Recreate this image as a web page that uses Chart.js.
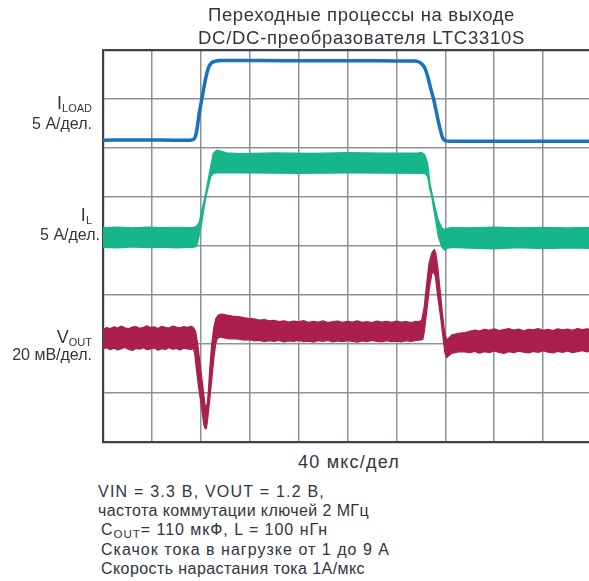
<!DOCTYPE html>
<html lang="ru">
<head>
<meta charset="utf-8">
<title>LTC3310S — переходные процессы</title>
<script src="https://cdn.jsdelivr.net/npm/chart.js@4/dist/chart.umd.min.js"></script>
<style>
  html, body { margin: 0; padding: 0; background: #ffffff; overflow: hidden; }
  body { width: 589px; height: 581px; position: relative;
         font-family: "Liberation Sans", Arial, sans-serif; color: #30353f; }
  #plot { position: absolute; left: 0; top: 0; width: 600px; height: 450px; }
  .t { position: absolute; white-space: nowrap; line-height: 1; }
  .r { text-align: right; }
  .sub { font-size: 11px; vertical-align: -3px; }
  .nsub { font-size: 11.5px; vertical-align: -3px; }
</style>
</head>
<body>
<div id="plot"><canvas id="c"></canvas></div>

<span class="t" data-w="307" style="left:208px; top:5.5px; font-size:18.5px;">Переходные процессы на выходе</span>
<span class="t" data-w="327" style="left:198px; top:28.5px; font-size:18.5px;">DC/DC-преобразователя LTC3310S</span>

<div class="t r" style="right:497px; top:94px; font-size:18px;">I<span class="sub">LOAD</span></div>
<div class="t r" style="right:497px; top:115.5px; font-size:16px;">5 А/дел.</div>

<div class="t r" style="right:497px; top:206px; font-size:18px;">I<span class="sub">L</span></div>
<div class="t r" style="right:489px; top:227px; font-size:16px;">5 А/дел.</div>

<div class="t r" style="right:497px; top:328px; font-size:18px;">V<span class="sub">OUT</span></div>
<div class="t r" style="right:497px; top:347px; font-size:16px;">20 мВ/дел.</div>

<span class="t" data-w="102" style="left:298px; top:453px; font-size:18px;">40 мкс/дел</span>

<span class="t" data-w="227" style="left:98px; top:483.5px; font-size:16px;">VIN = 3.3 В, VOUT = 1.2 В,</span>
<span class="t" data-w="271" style="left:98px; top:502.5px; font-size:16px;">частота коммутации ключей 2 МГц</span>
<span class="t" data-w="227" style="left:101px; top:522px; font-size:16px;">C<span class="nsub">OUT</span>= 110 мкФ, L = 100 нГн</span>
<span class="t" data-w="289" style="left:101px; top:542px; font-size:16px;">Скачок тока в нагрузке от 1 до 9 А</span>
<span class="t" data-w="264" style="left:101px; top:561px; font-size:16px;">Скорость нарастания тока 1А/мкс</span>

<script>
// Spread each caption line over its set width.
document.querySelectorAll('[data-w]').forEach(el => {
  const natural = el.getBoundingClientRect().width;
  const n = Array.from(el.textContent).length;
  el.style.letterSpacing = ((Number(el.dataset.w) - natural) / n) + 'px';
});

// Time base: 40 µs per division, 10 divisions.
const TIME_MAX_US = 400;
const TIME_STEP_US = 40;
const DIVISIONS_Y = 8;

// Load current I_LOAD, A
const ILOAD_T = [0, 30, 60, 71, 73.5, 75.5, 77, 78.5, 81, 83.5, 86, 88.5, 92, 96, 130, 170, 210, 240, 255, 258, 261, 263.5, 266, 268, 270.2, 272, 274, 276, 278, 280, 284, 320, 360, 400];
const ILOAD_A = [1.0, 1.02, 1.0, 1.0, 1.05, 1.35, 2.2, 3.6, 5.3, 7.0, 8.3, 8.85, 9.05, 9.12, 9.12, 9.1, 9.1, 9.09, 9.08, 9.0, 8.75, 8.3, 7.3, 6.3, 5.3, 4.3, 3.1, 2.0, 1.2, 0.95, 0.88, 0.9, 0.88, 0.9];

// Inductor current I_L, A — upper and lower ripple envelope
const IL_UP_T = [0, 12, 24, 36, 48, 60, 70, 73.9, 76.6, 78.8, 80.2, 83.4, 87.0, 90.2, 93.0, 95.7, 101.2, 112, 140, 170, 200, 230, 258, 260.7, 263.4, 265.6, 267.5, 269.4, 271.6, 274.3, 277.1, 278.4, 281.3, 285.2, 300, 320, 340, 360, 380, 400];
const IL_UP_A = [1.98, 2.02, 1.96, 2.03, 1.99, 2.01, 1.97, 1.99, 2.12, 2.56, 3.42, 5.11, 7.5, 9.54, 9.88, 9.81, 9.6, 9.54, 9.6, 9.55, 9.62, 9.57, 9.6, 9.64, 9.37, 8.52, 6.48, 5.29, 4.09, 2.73, 1.99, 1.79, 1.89, 1.99, 1.95, 2.02, 1.96, 2.0, 1.94, 2.01];
const IL_LO_T = [0, 12, 24, 36, 48, 60, 70, 73.9, 76.6, 77.9, 80.7, 84.2, 88.1, 90.2, 93.0, 120, 160, 200, 240, 263.4, 265.6, 267.5, 268.9, 271.6, 274.3, 277.1, 279.2, 281.2, 285.2, 300, 320, 340, 360, 380, 400];
const IL_LO_A = [-0.05, -0.1, 0.0, -0.08, -0.03, -0.1, -0.04, -0.05, 0.08, 0.69, 2.4, 5.11, 7.15, 7.5, 7.56, 7.55, 7.52, 7.56, 7.53, 7.5, 7.15, 5.8, 5.11, 3.07, 1.03, 0.01, -0.33, -0.15, -0.05, -0.12, -0.2, -0.08, -0.18, -0.1, -0.15];

// Output voltage deviation V_OUT, mV — upper envelope
const VOUT_UP_T = [
  0, 3, 6, 9, 12, 15, 18, 21, 24, 27, 30, 33, 36, 39, 42, 45, 48, 51, 54, 57, 60, 63, 66, 69, 72, 73.9,
  75.8, 77.4, 79.0, 81.0, 82.6, 83.6, 84.5, 85.4, 86.3, 87.3, 89.0, 90.8, 92.4, 94.3, 97.1, 101.2, 106,
  112, 116, 120, 124, 128, 132, 136, 140, 144, 148, 152, 156, 160, 164, 168, 172, 176, 180, 184, 188, 192, 196,
  200, 204, 208, 212, 216, 220, 224, 228, 232, 236, 240, 244, 248, 252, 256, 258,
  260.7, 262.8, 264.8, 266.7, 268.9, 271.0, 272.2, 273.8, 275.7, 277.6, 279.2, 280.3, 281.2, 282.5, 285.2, 290.6,
  296.1, 300, 304, 308, 312, 316, 320, 324, 328, 332, 336, 340, 344, 348, 352, 356, 360, 364, 368, 372, 376, 380,
  384, 388, 392, 396, 400];
const VOUT_UP_MV = [
  3.4, 4.3, 3.9, 4.6, 4.1, 4.9, 4.2, 3.8, 4.5, 4.7, 4.0, 4.4, 5.0, 4.3, 4.6, 3.9, 4.8, 4.4, 4.1, 4.9, 4.5, 4.2, 4.7, 4.4, 4.8, 4.3,
  2.6, -2.2, -9.0, -17.1, -24.0, -27.5, -28.2, -26.5, -21.0, -13.0, -2.2, 4.6, 8.0, 9.4, 9.8, 9.4, 9.0,
  8.7, 8.3, 8.0, 7.8, 7.3, 7.5, 7.0, 7.2, 6.7, 7.0, 6.5, 6.9, 6.6, 7.1, 6.4, 6.8, 6.5, 7.0, 6.3, 6.7, 6.9, 6.4,
  6.8, 6.5, 7.0, 6.4, 6.7, 6.3, 6.9, 6.5, 6.8, 6.4, 6.9, 6.5, 6.7, 6.3, 6.8, 6.6,
  7.3, 12.8, 22.3, 30.5, 34.6, 36.2, 34.6, 29.1, 19.6, 10.1, 3.3, 0.5, -0.8, -0.1, 1.2, 1.9,
  2.2, 2.8, 3.3, 2.9, 3.6, 3.2, 3.8, 3.1, 3.5, 3.9, 3.3, 3.7, 3.0, 3.6, 3.4, 3.9, 3.2, 3.6, 3.1, 3.8, 3.4, 3.7,
  3.2, 3.9, 3.5, 3.8, 3.4];

// Output voltage deviation V_OUT, mV — lower envelope
const VOUT_LO_T = [
  0, 3, 6, 9, 12, 15, 18, 21, 24, 27, 30, 33, 36, 39, 42, 45, 48, 51, 54, 57, 60, 63, 66, 69, 72, 73.9,
  75.0, 76.2, 78.2, 80.2, 81.5, 82.6, 83.6, 84.6, 85.6, 86.7, 88.6, 90.8, 92.2, 93.6, 96, 100, 104, 108,
  112, 116, 120, 124, 128, 132, 136, 140, 144, 148, 152, 156, 160, 164, 168, 172, 176, 180, 184, 188, 192, 196,
  200, 204, 208, 212, 216, 220, 224, 228, 232, 236, 240, 244, 248, 252, 256, 258.9,
  261.6, 263.0, 265.2, 267.1, 269.0, 270.6, 272.0, 273.9, 276.5, 278.4, 279.8, 281.2, 282.5, 285.2, 290.6,
  296.1, 300, 304, 308, 312, 316, 320, 324, 328, 332, 336, 340, 344, 348, 352, 356, 360, 364, 368, 372, 376, 380,
  384, 388, 392, 396, 400];
const VOUT_LO_MV = [
  -4.4, -3.9, -4.7, -4.1, -4.8, -4.3, -3.8, -4.6, -5.0, -4.2, -4.5, -3.9, -4.7, -4.4, -4.0, -4.9, -4.3, -4.6, -3.9, -4.5, -4.2, -4.8, -4.1, -4.4, -4.6, -4.2,
  -6.0, -11.7, -19.9, -26.7, -31.5, -35.5, -37.0, -36.8, -33.0, -28.0, -18.5, -7.6, -2.2, -0.1, 0.5, 0.0, -0.3, -0.2,
  -0.5, -0.8, -0.6, -1.1, -0.9, -1.4, -1.0, -1.3, -0.9, -1.5, -1.1, -1.3, -0.9, -1.4, -1.2, -1.6, -1.0, -1.3, -0.9, -1.5, -1.1, -1.4,
  -1.0, -1.3, -1.6, -1.1, -1.4, -0.9, -1.3, -1.5, -1.0, -1.4, -1.2, -1.5, -1.0, -1.3, -0.9, -0.8,
  -0.5, 3.3, 12.8, 20.9, 26.4, 27.1, 25.0, 16.9, 7.3, -0.8, -6.2, -7.9, -7.3, -6.2, -5.6,
  -5.6, -5.9, -5.4, -6.1, -5.5, -5.9, -5.2, -5.8, -6.2, -5.5, -5.9, -5.3, -5.7, -6.0, -5.4, -5.8, -5.1, -5.7, -6.0, -5.4, -5.8, -5.2,
  -5.9, -5.5, -5.1, -5.6, -5.0];

// Channel placement on the screen: reference level (in divisions from the bottom) and units per division
const ILOAD_ZERO_DIV = 5.96, ILOAD_PER_DIV = 5;
const IL_ZERO_DIV = 3.98, IL_PER_DIV = 5;
const VOUT_ZERO_DIV = 2.12, VOUT_PER_DIV = 20;

const toDiv = (ts, vs, zero, perDiv) => ts.map((t, i) => ({ x: t, y: zero + vs[i] / perDiv }));

const BLUE = '#1871c1';
const GREEN = '#17b58a';
const RED = '#aa1f4c';
const GRID = '#8c929b';
const FRAME = '#3a414d';

new Chart(document.getElementById('c'), {
  type: 'line',
  data: {
    datasets: [
      { label: 'VOUT+', data: toDiv(VOUT_UP_T, VOUT_UP_MV, VOUT_ZERO_DIV, VOUT_PER_DIV),
        borderColor: RED, backgroundColor: RED, borderWidth: 1.3, fill: '+1' },
      { label: 'VOUT-', data: toDiv(VOUT_LO_T, VOUT_LO_MV, VOUT_ZERO_DIV, VOUT_PER_DIV),
        borderColor: RED, backgroundColor: RED, borderWidth: 1.3, fill: false },
      { label: 'IL+', data: toDiv(IL_UP_T, IL_UP_A, IL_ZERO_DIV, IL_PER_DIV),
        borderColor: GREEN, backgroundColor: GREEN, borderWidth: 1.2, fill: '+1' },
      { label: 'IL-', data: toDiv(IL_LO_T, IL_LO_A, IL_ZERO_DIV, IL_PER_DIV),
        borderColor: GREEN, backgroundColor: GREEN, borderWidth: 1.2, fill: false },
      { label: 'ILOAD', data: toDiv(ILOAD_T, ILOAD_A, ILOAD_ZERO_DIV, ILOAD_PER_DIV),
        borderColor: BLUE, borderWidth: 3.5, fill: false,
        cubicInterpolationMode: 'monotone' }
    ]
  },
  options: {
    responsive: true,
    maintainAspectRatio: false,
    animation: false,
    events: [],
    layout: { padding: { left: 103, top: 50, right: 8, bottom: 8 } },
    elements: { point: { radius: 0 }, line: { tension: 0, borderCapStyle: 'round', borderJoinStyle: 'round' } },
    plugins: { legend: { display: false }, tooltip: { enabled: false }, title: { display: false } },
    scales: {
      x: {
        type: 'linear', min: 0, max: TIME_MAX_US,
        ticks: { display: false, stepSize: TIME_STEP_US },
        grid: { color: GRID, lineWidth: 1.5, drawTicks: false },
        border: { display: true, color: FRAME, width: 2.2 },
        afterFit: s => { s.height = 0; }
      },
      y: {
        type: 'linear', min: 0, max: DIVISIONS_Y,
        ticks: { display: false, stepSize: 1 },
        grid: {
          drawTicks: false,
          color: c => (c.tick && c.tick.value === DIVISIONS_Y) ? FRAME : GRID,
          lineWidth: c => (c.tick && c.tick.value === DIVISIONS_Y) ? 2.2 : 1.5
        },
        border: { display: true, color: FRAME, width: 2.2 },
        afterFit: s => { s.width = 0; }
      }
    }
  }
});
</script>
</body>
</html>
